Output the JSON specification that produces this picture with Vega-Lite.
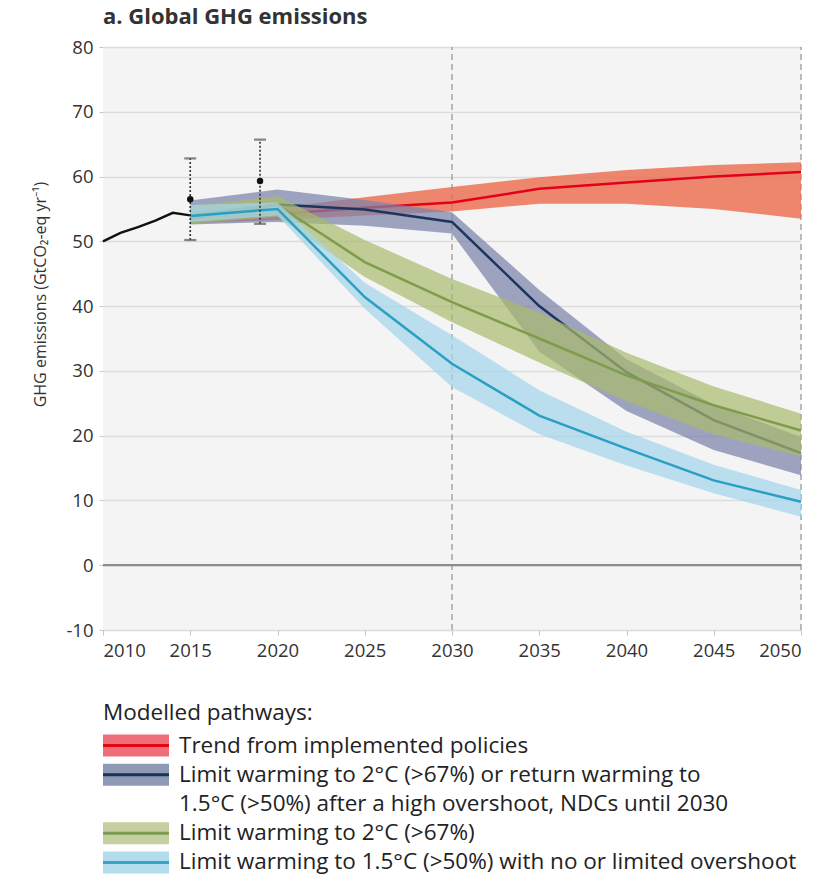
{
  "$schema": "https://vega.github.io/schema/vega-lite/v6.json",
  "background": "white",
  "padding": {"left": 32, "top": 6, "right": 5, "bottom": 2},
  "spacing": 41,
  "resolve": {"scale": {"x": "independent", "y": "independent", "color": "independent"}},
  "config": {
    "font": "Open Sans",
    "view": {"stroke": null},
    "axis": {
      "labelFont": "Open Sans",
      "labelFontSize": 18.5,
      "labelColor": "#333333",
      "domain": false,
      "tickColor": "#c4c4c4",
      "titleFont": "Open Sans",
      "titleFontWeight": "normal",
      "titleColor": "#333333",
      "titleFontSize": 16
    },
    "axisX": {"grid": false, "tickSize": 5, "labelPadding": 6, "labelFlush": true},
    "axisY": {"grid": true, "gridColor": "#dcdcdc", "gridWidth": 1.3, "tickSize": 4, "labelPadding": 6, "titlePadding": 17, "titleY": 247}
  },
  "datasets": {
    "history": [
      {"year": 2010, "value": 50.0},
      {"year": 2011, "value": 51.3},
      {"year": 2012, "value": 52.2},
      {"year": 2013, "value": 53.2},
      {"year": 2014, "value": 54.4},
      {"year": 2015, "value": 54.0}
    ],
    "pathways": [
      {"pathway": "policies", "year": 2015, "lo": 52.8, "mid": 53.6, "hi": 54.5},
      {"pathway": "policies", "year": 2020, "lo": 53.3, "mid": 54.2, "hi": 55.2},
      {"pathway": "policies", "year": 2025, "lo": 54.0, "mid": 55.2, "hi": 56.8},
      {"pathway": "policies", "year": 2030, "lo": 54.6, "mid": 56.0, "hi": 58.4},
      {"pathway": "policies", "year": 2035, "lo": 55.8, "mid": 58.1, "hi": 59.9},
      {"pathway": "policies", "year": 2040, "lo": 55.8, "mid": 59.1, "hi": 61.0},
      {"pathway": "policies", "year": 2045, "lo": 55.0, "mid": 60.0, "hi": 61.8},
      {"pathway": "policies", "year": 2050, "lo": 53.5, "mid": 60.7, "hi": 62.2},

      {"pathway": "ndc", "year": 2015, "lo": 52.6, "mid": 54.0, "hi": 56.3},
      {"pathway": "ndc", "year": 2020, "lo": 53.0, "mid": 55.7, "hi": 58.0},
      {"pathway": "ndc", "year": 2025, "lo": 52.4, "mid": 54.9, "hi": 56.4},
      {"pathway": "ndc", "year": 2030, "lo": 51.2, "mid": 53.0, "hi": 54.5},
      {"pathway": "ndc", "year": 2035, "lo": 33.0, "mid": 40.0, "hi": 42.5},
      {"pathway": "ndc", "year": 2040, "lo": 23.8, "mid": 29.8, "hi": 31.8},
      {"pathway": "ndc", "year": 2045, "lo": 17.8, "mid": 22.4, "hi": 24.8},
      {"pathway": "ndc", "year": 2050, "lo": 13.9, "mid": 17.3, "hi": 19.8},

      {"pathway": "2c", "year": 2015, "lo": 52.7, "mid": 53.5, "hi": 55.5},
      {"pathway": "2c", "year": 2020, "lo": 53.8, "mid": 55.6, "hi": 57.0},
      {"pathway": "2c", "year": 2025, "lo": 44.5, "mid": 46.8, "hi": 50.2},
      {"pathway": "2c", "year": 2030, "lo": 37.5, "mid": 40.6, "hi": 44.2},
      {"pathway": "2c", "year": 2035, "lo": 31.3, "mid": 35.0, "hi": 39.0},
      {"pathway": "2c", "year": 2040, "lo": 25.3, "mid": 29.3, "hi": 32.8},
      {"pathway": "2c", "year": 2045, "lo": 20.2, "mid": 24.7, "hi": 27.6},
      {"pathway": "2c", "year": 2050, "lo": 16.8, "mid": 20.8, "hi": 23.4},

      {"pathway": "1.5c", "year": 2015, "lo": 53.0, "mid": 53.9, "hi": 55.6},
      {"pathway": "1.5c", "year": 2020, "lo": 54.0, "mid": 55.0, "hi": 56.0},
      {"pathway": "1.5c", "year": 2025, "lo": 39.6, "mid": 41.4, "hi": 43.6},
      {"pathway": "1.5c", "year": 2030, "lo": 27.5, "mid": 31.1, "hi": 35.5},
      {"pathway": "1.5c", "year": 2035, "lo": 20.2, "mid": 23.1, "hi": 27.0},
      {"pathway": "1.5c", "year": 2040, "lo": 15.4, "mid": 18.0, "hi": 20.6},
      {"pathway": "1.5c", "year": 2045, "lo": 11.1, "mid": 13.1, "hi": 15.5},
      {"pathway": "1.5c", "year": 2050, "lo": 7.5, "mid": 9.8, "hi": 11.6}
    ],
    "estimates": [
      {"year": 2015, "value": 56.5, "lo": 50.2, "hi": 62.8},
      {"year": 2019, "value": 59.3, "lo": 52.7, "hi": 65.7}
    ],
    "markers": [{"year": 2030}, {"year": 2050}],
    "baseline": [{"value": 0}],
    "legend": [
      {"line": 1, "key": "policies", "label": "Trend from implemented policies"},
      {"line": 2, "key": "ndc", "label": "Limit warming to 2°C (>67%) or return warming to"},
      {"line": 3, "key": null, "label": "1.5°C (>50%) after a high overshoot, NDCs until 2030"},
      {"line": 4, "key": "2c", "label": "Limit warming to 2°C (>67%)"},
      {"line": 5, "key": "1.5c", "label": "Limit warming to 1.5°C (>50%) with no or limited overshoot"}
    ]
  },
  "vconcat": [
    {
      "width": 698,
      "height": 583,
      "view": {"fill": "#f4f4f4", "stroke": null},
      "title": {
        "text": "a. Global GHG emissions",
        "anchor": "start",
        "frame": "group",
        "fontSize": 22,
        "fontWeight": "bold",
        "color": "#333333",
        "offset": 9
      },
      "layer": [
        {
          "data": {"name": "markers"},
          "mark": {"type": "rule", "color": "#9a9a9a", "strokeWidth": 1.3, "strokeDash": [6, 4]},
          "encoding": {
            "x": {
              "field": "year", "type": "quantitative", "title": null,
              "scale": {"domain": [2010, 2050], "nice": false, "zero": false},
              "axis": {"values": [2010, 2015, 2020, 2025, 2030, 2035, 2040, 2045, 2050], "format": "d"}
            },
            "y": {
              "datum": -10, "type": "quantitative", "title": "GHG emissions (GtCO₂-eq yr⁻¹)",
              "scale": {"domain": [-10, 80], "nice": false, "zero": false},
              "axis": {
                "values": [-10, 0, 10, 20, 30, 40, 50, 60, 70, 80],
                "labelExpr": "datum.value < 0 ? '-' + abs(datum.value) : datum.label"
              }
            },
            "y2": {"datum": 80}
          }
        },
        {
          "data": {"name": "baseline"},
          "mark": {"type": "rule", "color": "#8c8c8c", "strokeWidth": 2.2},
          "encoding": {"y": {"field": "value", "type": "quantitative", "title": "GHG emissions (GtCO₂-eq yr⁻¹)"}}
        },
        {
          "data": {"name": "history"},
          "mark": {"type": "line", "color": "#111111", "strokeWidth": 2.4},
          "encoding": {
            "x": {"field": "year", "type": "quantitative", "title": null},
            "y": {"field": "value", "type": "quantitative", "title": "GHG emissions (GtCO₂-eq yr⁻¹)"}
          }
        },
        {
          "data": {"name": "pathways"},
          "transform": [{"filter": "datum.pathway === 'policies'"}],
          "mark": {"type": "area", "color": "#ec6a4c", "opacity": 0.8},
          "encoding": {
            "x": {"field": "year", "type": "quantitative", "title": null},
            "y": {"field": "lo", "type": "quantitative", "title": "GHG emissions (GtCO₂-eq yr⁻¹)"},
            "y2": {"field": "hi"}
          }
        },
        {
          "data": {"name": "pathways"},
          "transform": [{"filter": "datum.pathway === 'policies'"}],
          "mark": {"type": "line", "color": "#e2001a", "strokeWidth": 2.5},
          "encoding": {
            "x": {"field": "year", "type": "quantitative", "title": null},
            "y": {"field": "mid", "type": "quantitative", "title": "GHG emissions (GtCO₂-eq yr⁻¹)"}
          }
        },
        {
          "data": {"name": "pathways"},
          "transform": [{"filter": "datum.pathway === 'ndc'"}],
          "mark": {"type": "area", "color": "#7c82aa", "opacity": 0.72},
          "encoding": {
            "x": {"field": "year", "type": "quantitative", "title": null},
            "y": {"field": "lo", "type": "quantitative", "title": "GHG emissions (GtCO₂-eq yr⁻¹)"},
            "y2": {"field": "hi"}
          }
        },
        {
          "data": {"name": "pathways"},
          "transform": [{"filter": "datum.pathway === 'ndc'"}],
          "mark": {"type": "line", "color": "#1c355e", "strokeWidth": 2.5},
          "encoding": {
            "x": {"field": "year", "type": "quantitative", "title": null},
            "y": {"field": "mid", "type": "quantitative", "title": "GHG emissions (GtCO₂-eq yr⁻¹)"}
          }
        },
        {
          "data": {"name": "pathways"},
          "transform": [{"filter": "datum.pathway === '2c'"}],
          "mark": {"type": "area", "color": "#a8bb6c", "opacity": 0.7},
          "encoding": {
            "x": {"field": "year", "type": "quantitative", "title": null},
            "y": {"field": "lo", "type": "quantitative", "title": "GHG emissions (GtCO₂-eq yr⁻¹)"},
            "y2": {"field": "hi"}
          }
        },
        {
          "data": {"name": "pathways"},
          "transform": [{"filter": "datum.pathway === '2c'"}],
          "mark": {"type": "line", "color": "#7e9c4c", "strokeWidth": 2.5},
          "encoding": {
            "x": {"field": "year", "type": "quantitative", "title": null},
            "y": {"field": "mid", "type": "quantitative", "title": "GHG emissions (GtCO₂-eq yr⁻¹)"}
          }
        },
        {
          "data": {"name": "pathways"},
          "transform": [{"filter": "datum.pathway === '1.5c'"}],
          "mark": {"type": "area", "color": "#a3d5ea", "opacity": 0.72},
          "encoding": {
            "x": {"field": "year", "type": "quantitative", "title": null},
            "y": {"field": "lo", "type": "quantitative", "title": "GHG emissions (GtCO₂-eq yr⁻¹)"},
            "y2": {"field": "hi"}
          }
        },
        {
          "data": {"name": "pathways"},
          "transform": [{"filter": "datum.pathway === '1.5c'"}],
          "mark": {"type": "line", "color": "#2a9fc4", "strokeWidth": 2.5},
          "encoding": {
            "x": {"field": "year", "type": "quantitative", "title": null},
            "y": {"field": "mid", "type": "quantitative", "title": "GHG emissions (GtCO₂-eq yr⁻¹)"}
          }
        },
        {
          "data": {"name": "estimates"},
          "mark": {"type": "rule", "color": "#333333", "strokeWidth": 1.6, "strokeDash": [2, 2]},
          "encoding": {
            "x": {"field": "year", "type": "quantitative", "title": null},
            "y": {"field": "lo", "type": "quantitative", "title": "GHG emissions (GtCO₂-eq yr⁻¹)"},
            "y2": {"field": "hi"}
          }
        },
        {
          "data": {"name": "estimates"},
          "mark": {"type": "tick", "orient": "horizontal", "color": "#555555", "size": 12, "thickness": 2.2},
          "encoding": {
            "x": {"field": "year", "type": "quantitative", "title": null},
            "y": {"field": "lo", "type": "quantitative", "title": "GHG emissions (GtCO₂-eq yr⁻¹)"}
          }
        },
        {
          "data": {"name": "estimates"},
          "mark": {"type": "tick", "orient": "horizontal", "color": "#555555", "size": 12, "thickness": 2.2},
          "encoding": {
            "x": {"field": "year", "type": "quantitative", "title": null},
            "y": {"field": "hi", "type": "quantitative", "title": "GHG emissions (GtCO₂-eq yr⁻¹)"}
          }
        },
        {
          "data": {"name": "estimates"},
          "mark": {"type": "circle", "color": "#111111", "size": 42, "opacity": 1},
          "encoding": {
            "x": {"field": "year", "type": "quantitative", "title": null},
            "y": {"field": "value", "type": "quantitative", "title": "GHG emissions (GtCO₂-eq yr⁻¹)"}
          }
        }
      ]
    },
    {
      "width": 66,
      "height": 146,
      "data": {"name": "legend"},
      "title": {
        "text": "Modelled pathways:",
        "anchor": "start",
        "frame": "group",
        "fontSize": 22.5,
        "fontWeight": "normal",
        "color": "#222222",
        "offset": 7
      },
      "resolve": {"scale": {"color": "independent"}},
      "layer": [
        {
          "transform": [{"filter": "datum.key != null"}],
          "mark": {"type": "rule", "strokeWidth": 22, "strokeCap": "butt"},
          "encoding": {
            "x": {"datum": 0, "type": "quantitative", "scale": {"domain": [0, 1]}, "axis": null},
            "x2": {"datum": 1},
            "y": {"field": "line", "type": "quantitative", "scale": {"domain": [0.5, 5.5], "reverse": true}, "axis": null},
            "color": {
              "field": "key", "type": "nominal", "legend": null,
              "scale": {"domain": ["policies", "ndc", "2c", "1.5c"], "range": ["#ee6f7a", "#8f9ab6", "#c5cf9f", "#b3dcec"]}
            }
          }
        },
        {
          "transform": [{"filter": "datum.key != null"}],
          "mark": {"type": "rule", "strokeWidth": 3, "strokeCap": "butt"},
          "encoding": {
            "x": {"datum": 0, "type": "quantitative"},
            "x2": {"datum": 1},
            "y": {"field": "line", "type": "quantitative"},
            "color": {
              "field": "key", "type": "nominal", "legend": null,
              "scale": {"domain": ["policies", "ndc", "2c", "1.5c"], "range": ["#e30613", "#1a3358", "#7d9a50", "#36a4c4"]}
            }
          }
        },
        {
          "mark": {"type": "text", "align": "left", "baseline": "middle", "dx": 10, "fontSize": 22.5, "color": "#222222"},
          "encoding": {
            "x": {"datum": 1, "type": "quantitative"},
            "y": {"field": "line", "type": "quantitative"},
            "text": {"field": "label"}
          }
        }
      ]
    }
  ]
}
